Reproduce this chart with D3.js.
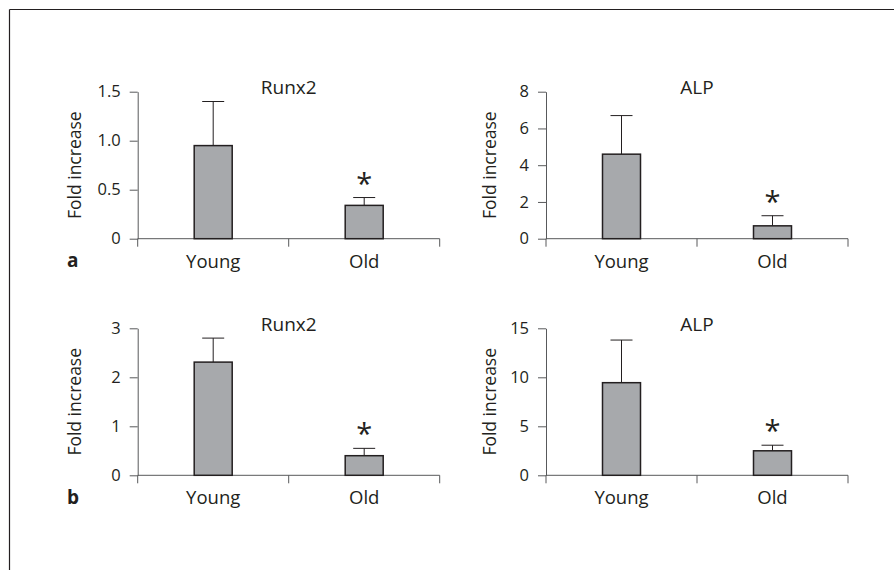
<!DOCTYPE html>
<html>
<head>
<meta charset="utf-8">
<script src="https://cdn.jsdelivr.net/npm/d3@7"></script>
<style>
  body { margin: 0; background: #fff; }
  svg { display: block; font-family: "Open Sans", sans-serif; }
</style>
</head>
<body>
<div id="vis"></div>
<script>
// figure size
const FRAME_WIDTH = 894;
const FRAME_HEIGHT = 570;

// data (means and error bar sizes)
const groups = ["Young", "Old"];

const runx2A = [0.95, 0.34];
const runx2AErr = [0.45, 0.08];
const runx2ATicks = [0, 0.5, 1.0, 1.5];

const alpA = [4.6, 0.7];
const alpAErr = [2.1, 0.55];
const alpATicks = [0, 2, 4, 6, 8];

const runx2B = [2.31, 0.40];
const runx2BErr = [0.49, 0.15];
const runx2BTicks = [0, 1, 2, 3];

const alpB = [9.45, 2.5];
const alpBErr = [4.35, 0.57];
const alpBTicks = [0, 5, 10, 15];

// significance marks (true = asterisk above that group)
const signif = [false, true];

const INK = "#231f20";
const AXIS = "#58595b";
const BAR_FILL = "#a7a9ac";

const svg = d3.select("#vis")
  .append("svg")
    .attr("width", FRAME_WIDTH)
    .attr("height", FRAME_HEIGHT);

// partial frame (top and left edge of the figure box)
svg.append("line")
  .attr("x1", 9.5).attr("x2", FRAME_WIDTH).attr("y1", 9.5).attr("y2", 9.5)
  .attr("stroke", INK).attr("stroke-width", 1.2);
svg.append("line")
  .attr("x1", 9.5).attr("x2", 9.5).attr("y1", 9.5).attr("y2", FRAME_HEIGHT)
  .attr("stroke", INK).attr("stroke-width", 1.2);

// panel layout
const panels = [
  {title: "Runx2", vals: runx2A, err: runx2AErr, ticks: runx2ATicks, max: 1.5,
   left: 137.7, top: 91.7, ylab: 81, letter: "a"},
  {title: "ALP", vals: alpA, err: alpAErr, ticks: alpATicks, max: 8,
   left: 546, top: 91.7, ylab: 495.5},
  {title: "Runx2", vals: runx2B, err: runx2BErr, ticks: runx2BTicks, max: 3,
   left: 137.7, top: 328.3, ylab: 81, letter: "b"},
  {title: "ALP", vals: alpB, err: alpBErr, ticks: alpBTicks, max: 15,
   left: 546, top: 328.3, ylab: 495.5}
];

const VIS_WIDTH = 302;
const VIS_HEIGHT = 147;
const BAR_WIDTH = 38;

panels.forEach((p) => {
  const bottom = p.top + VIS_HEIGHT;

  const X_SCALE = d3.scaleBand()
    .domain(groups)
    .range([p.left, p.left + VIS_WIDTH]);

  const Y_SCALE = d3.scaleLinear()
    .domain([0, p.max])
    .range([bottom, p.top]);

  // one record per bar
  const rows = groups.map((name, i) => ({
    name: name, val: p.vals[i], err: p.err[i], star: signif[i]
  }));
  const cx = (d) => X_SCALE(d.name) + X_SCALE.bandwidth() / 2;

  const g = svg.append("g");

  // y axis
  g.append("g")
    .attr("transform", "translate(" + p.left + ",0)")
    .call(d3.axisLeft(Y_SCALE)
      .tickValues(p.ticks)
      .tickSize(8)
      .tickSizeOuter(0)
      .tickPadding(9)
      .tickFormat((d) => d === 0 ? "0" : (p.max < 2 ? d3.format(".1f")(d) : d)))
    .call((ax) => {
      ax.selectAll("path, line").attr("stroke", AXIS);
      ax.selectAll("text").attr("fill", INK).attr("font-size", "16.5px")
        .attr("font-family", "Open Sans, sans-serif");
    });

  // x axis baseline and category boundary ticks
  g.append("line")
    .attr("x1", p.left).attr("x2", p.left + VIS_WIDTH)
    .attr("y1", bottom).attr("y2", bottom)
    .attr("stroke", AXIS);

  const bounds = [0, 1, 2].map((i) => p.left + i * X_SCALE.bandwidth());
  g.selectAll(".bound")
    .data(bounds)
    .enter()
    .append("line")
      .attr("x1", (d) => d).attr("x2", (d) => d)
      .attr("y1", bottom).attr("y2", bottom + 8)
      .attr("stroke", AXIS);

  // category labels
  g.append("g")
    .attr("transform", "translate(0," + bottom + ")")
    .call(d3.axisBottom(X_SCALE).tickSize(0).tickPadding(16))
    .call((ax) => {
      ax.select(".domain").remove();
      ax.selectAll("text").attr("fill", INK).attr("font-size", "18.5px")
        .attr("font-family", "Open Sans, sans-serif");
    });

  // error bars (upper only)
  g.selectAll(".err")
    .data(rows)
    .enter()
    .append("line")
      .attr("x1", cx).attr("x2", cx)
      .attr("y1", (d) => Y_SCALE(d.val))
      .attr("y2", (d) => Y_SCALE(d.val + d.err))
      .attr("stroke", INK).attr("stroke-width", 1);

  g.selectAll(".cap")
    .data(rows)
    .enter()
    .append("line")
      .attr("x1", (d) => cx(d) - 11)
      .attr("x2", (d) => cx(d) + 11)
      .attr("y1", (d) => Y_SCALE(d.val + d.err))
      .attr("y2", (d) => Y_SCALE(d.val + d.err))
      .attr("stroke", INK).attr("stroke-width", 1);

  // bars
  g.selectAll(".bar")
    .data(rows)
    .enter()
    .append("rect")
      .attr("x", (d) => cx(d) - BAR_WIDTH / 2)
      .attr("y", (d) => Y_SCALE(d.val))
      .attr("width", BAR_WIDTH)
      .attr("height", (d) => bottom - Y_SCALE(d.val))
      .attr("fill", BAR_FILL)
      .attr("stroke", INK)
      .attr("stroke-width", 1.5);

  // asterisks
  g.selectAll(".star")
    .data(rows.filter((d) => d.star))
    .enter()
    .append("text")
      .attr("x", cx)
      .attr("y", (d) => Y_SCALE(d.val + d.err) - 4)
      .attr("text-anchor", "middle")
      .attr("font-size", "29px")
      .attr("fill", INK)
      .text("*");

  // panel title
  g.append("text")
    .attr("x", p.left + VIS_WIDTH / 2)
    .attr("y", p.top + 2.5)
    .attr("text-anchor", "middle")
    .attr("font-size", "19px")
    .attr("fill", INK)
    .text(p.title);

  // y label
  g.append("text")
    .attr("transform", "translate(" + p.ylab + "," + (p.top + VIS_HEIGHT / 2) + ") rotate(-90)")
    .attr("text-anchor", "middle")
    .attr("font-size", "17.5px")
    .attr("fill", INK)
    .text("Fold increase");

  // panel letter
  if (p.letter) {
    g.append("text")
      .attr("x", 67)
      .attr("y", bottom + 28.5)
      .attr("font-size", "19px")
      .attr("font-weight", "bold")
      .attr("fill", INK)
      .text(p.letter);
  }
});
</script>
</body>
</html>
